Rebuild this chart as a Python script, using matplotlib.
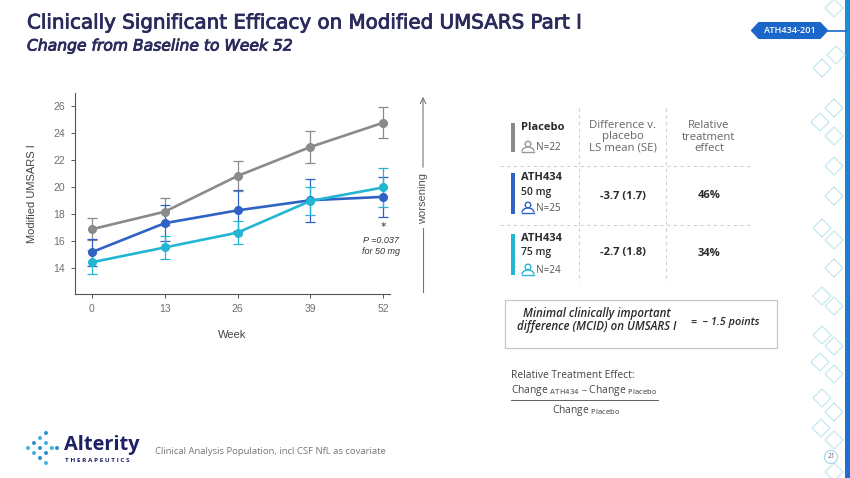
import matplotlib
matplotlib.use("Agg")
import matplotlib.pyplot as plt
import matplotlib.patheffects as pe
from matplotlib.patches import Polygon, Rectangle, Circle, Arc
import numpy as np

# ---------------- data ----------------
weeks = [0, 13, 26, 39, 52]
placebo = [16.9, 18.2, 20.85, 23.0, 24.8]
placebo_err = [0.8, 1.0, 1.1, 1.2, 1.15]
mg50 = [15.2, 17.35, 18.3, 19.05, 19.3]
mg50_err = [1.0, 1.35, 1.5, 1.6, 1.5]
mg75 = [14.45, 15.55, 16.65, 19.0, 20.0]
mg75_err = [0.9, 0.85, 0.85, 1.05, 1.45]
yticks = [14, 16, 18, 20, 22, 24, 26]

groups = ["Placebo", "ATH434\n50 mg", "ATH434\n75 mg"]
n_values = ["N=22", "N=25", "N=24"]
diff_values = ["", "-3.7 (1.7)", "-2.7 (1.8)"]
rel_effect = ["", "46%", "34%"]

C_PLA = "#8a8a8a"
C_50 = "#2f62c4"
C_75 = "#22b6d2"
NAVY = "#2a2b5c"

W, H = 850, 478
fig = plt.figure(figsize=(8.5, 4.78), dpi=100)
fig.patch.set_facecolor("white")

# ---------------- overlay (pixel coords) ----------------
ov = fig.add_axes([0, 0, 1, 1])
ov.axis("off")
SL = "Open Sans"
TF = "DejaVu Sans"

# title
ov.text(27, 23, "Clinically Significant Efficacy on Modified UMSARS Part I",
        fontsize=14.3, fontfamily=TF, color=NAVY, va="center",
        path_effects=[pe.withStroke(linewidth=0.6, foreground=NAVY)])
ov.text(27, 46, "Change from Baseline to Week 52", fontsize=11.2, fontfamily=TF,
        style="italic", color=NAVY, va="center",
        path_effects=[pe.withStroke(linewidth=0.6, foreground=NAVY)])

# badge
bx = [752, 759, 820, 827, 820, 759]
by = [30.5, 23, 23, 30.5, 38, 38]
ov.add_patch(Polygon(list(zip(bx, by)), closed=True, facecolor="#1a66c9", edgecolor="#1a66c9",
                     lw=1.5, joinstyle="round"))
ov.text(789.5, 30.5, "ATH434-201", fontsize=6.6, fontfamily=SL, fontweight="semibold",
        color="white", ha="center", va="center")
ov.plot([827, 846], [30.5, 30.5], color="#1a66c9", lw=1.2)

# right edge bar
grad = np.linspace(0, 1, 200).reshape(-1, 1)
ov.imshow(grad, extent=(845, 850, H, 0), cmap=matplotlib.colors.LinearSegmentedColormap.from_list(
    "g", ["#1a8fd6", "#1f6fd0"]), aspect="auto", zorder=1)

# decorative diamonds
diam = [(834, 8), (836, 55), (822, 68), (834, 108), (820, 122), (834, 136), (834, 166),
        (834, 196), (822, 228), (834, 240), (834, 268), (822, 296), (834, 306), (822, 335),
        (834, 346), (820, 362), (834, 374), (822, 398), (834, 412), (821, 428), (834, 440),
        (834, 472)]
for cx, cy in diam:
    d = 9
    ov.add_patch(Polygon([(cx, cy - d), (cx + d, cy), (cx, cy + d), (cx - d, cy)], closed=True,
                         facecolor="none", edgecolor="#c4e8f1", lw=0.9, joinstyle="round"))
ov.add_patch(Circle((831, 457), 6.5, facecolor="white", edgecolor="#9fd6e6", lw=0.8))
ov.text(831, 457, "21", fontsize=4.8, fontfamily=SL, color="#555", ha="center", va="center")

# worsening arrow
ov.annotate("", xy=(423, 94), xytext=(423, 170),
            arrowprops=dict(arrowstyle="->", color="#777", lw=0.8))
ov.plot([423, 423], [228, 292], color="#777", lw=0.8)
ov.text(423, 199, "worsening", rotation=90, fontsize=8, fontfamily="Liberation Sans",
        color="#555", ha="center", va="center")

# significance annotation
ov.text(383, 227, "*", fontsize=8, color="#333", ha="center", va="center")
ov.text(381, 240, "P =0.037", fontsize=6.5, style="italic", fontfamily="Liberation Sans",
        color="#333", ha="center", va="center")
ov.text(381, 251, "for 50 mg", fontsize=6.5, style="italic", fontfamily="Liberation Sans",
        color="#333", ha="center", va="center")

# ---------------- table ----------------
for xv in [579, 666]:
    ov.plot([xv, xv], [108, 282], color="#cfcfcf", lw=0.8, ls=(0, (3, 3)))
for yh in [166, 225]:
    ov.plot([500, 750], [yh, yh], color="#cfcfcf", lw=0.8, ls=(0, (3, 3)))

ov.text(623, 137, "Difference v.\nplacebo\nLS mean (SE)", fontsize=8.2, fontfamily=SL,
        color="#666", ha="center", va="center", linespacing=1.05)
ov.text(709, 137, "Relative\ntreatment\neffect", fontsize=8.2, fontfamily=SL,
        color="#666", ha="center", va="center", linespacing=1.05)

bar_cols = [C_PLA, C_50, C_75]
bar_spans = [(123, 152), (173, 214), (234, 275)]
name_y = [[127], [177, 192], [238, 253]]
n_y = [147, 208, 270]
val_y = [None, 196, 253]
for i in range(3):
    y0, y1 = bar_spans[i]
    ov.add_patch(Rectangle((511.5, y0), 3.5, y1 - y0, facecolor=bar_cols[i], edgecolor="none"))
    lines = groups[i].split("\n")
    for j, ln in enumerate(lines):
        ov.text(521, name_y[i][j], ln, fontsize=8.0 if j == 0 else 7.5, fontfamily=SL,
                fontweight="bold" if j == 0 else "semibold", color="#2b2b2b", va="center")
    # person icon
    icol = "#9a9a9a" if i == 0 else bar_cols[i]
    ix, iy = 528, n_y[i]
    ov.add_patch(Circle((ix, iy - 3.0), 2.8, facecolor="none", edgecolor=icol, lw=1.0))
    ov.add_patch(Arc((ix, iy + 4.5), 12, 9, theta1=180, theta2=360, edgecolor=icol, lw=1.0))
    ov.plot([ix - 6, ix + 6], [iy + 4.5, iy + 4.5], color=icol, lw=1.0)
    ov.text(536, iy + 0.5, n_values[i], fontsize=7.2, fontfamily=SL, color="#555", va="center")
    if val_y[i] is not None:
        ov.text(623, val_y[i], diff_values[i], fontsize=8, fontfamily=SL, fontweight="bold",
                color="#2b2b2b", ha="center", va="center")
        ov.text(709, val_y[i], rel_effect[i], fontsize=8, fontfamily=SL, fontweight="bold",
                color="#2b2b2b", ha="center", va="center")

# MCID box
ov.add_patch(Rectangle((505, 300), 272, 48, facecolor="white", edgecolor="#c8c8c8", lw=0.9))
ov.text(597, 320, "Minimal clinically important\ndifference (MCID) on UMSARS I", fontsize=8.3,
        fontfamily=SL, fontweight="semibold", style="italic", color="#2b2b2b", ha="center",
        va="center", linespacing=1.0)
ov.text(725, 322, "=  – 1.5 points", fontsize=7.8, fontfamily=SL, fontweight="semibold",
        style="italic", color="#2b2b2b", ha="center", va="center")

# relative treatment effect formula
ov.text(511, 376, "Relative Treatment Effect:", fontsize=7.4, fontfamily=SL, color="#444",
        va="center")
ov.text(511, 391, r"Change $_{\mathrm{ATH434}}$ – Change $_{\mathrm{Placebo}}$", fontsize=7.4,
        fontfamily=SL, color="#444", va="center")
ov.plot([511, 658], [400, 400], color="#444", lw=0.6)
ov.text(586, 410, r"Change $_{\mathrm{Placebo}}$", fontsize=7.4, fontfamily=SL, color="#444",
        ha="center", va="center")

# footer: logo
dots = [(28, 448), (34, 443), (34, 453), (40, 448), (40, 438), (40, 458), (46, 443),
        (46, 453), (52, 448), (46, 433), (46, 463), (57, 448)]
for k, (dx, dy) in enumerate(dots):
    ov.add_patch(Circle((dx, dy), 2.0, facecolor="#2a8fd8" if k % 2 else "#3fb3e3",
                        edgecolor="none"))
ov.text(64, 445, "Alterity", fontsize=14.4, fontfamily=SL, fontweight="bold", color="#1f2167",
        va="center")
ov.text(65, 461, "T H E R A P E U T I C S", fontsize=4.6, fontfamily=SL, fontweight="bold",
        color="#1f2167", va="center")
ov.text(155, 451, "Clinical Analysis Population, incl CSF NfL as covariate", fontsize=6.8,
        fontfamily=SL, color="#777", va="center")

ov.set_xlim(0, W)
ov.set_ylim(H, 0)

# ---------------- chart ----------------
ax = fig.add_axes([75 / W, 1 - 294 / H, 315 / W, 201 / H])
ax.set_facecolor("none")
series = [(placebo, placebo_err, C_PLA), (mg50, mg50_err, C_50), (mg75, mg75_err, C_75)]
for vals, errs, col in series:
    ax.errorbar(weeks, vals, yerr=errs, color=col, lw=1.9, marker="o", ms=5.5,
                elinewidth=0.9, capsize=3.5, capthick=0.9, ecolor=col, zorder=3)
ax.set_xlim(-3, 53.2)
ax.set_ylim(12.1, 27.0)
ax.set_xticks(weeks)
ax.set_yticks(yticks)
for s in ["top", "right"]:
    ax.spines[s].set_visible(False)
for s in ["left", "bottom"]:
    ax.spines[s].set_color("#555")
    ax.spines[s].set_linewidth(0.8)
ax.tick_params(axis="both", length=3, width=0.7, color="#555", labelsize=7.5,
               labelcolor="#6f6f6f", pad=4)
for lab in ax.get_xticklabels() + ax.get_yticklabels():
    lab.set_fontfamily("Liberation Sans")
ax.set_xlabel("Week", fontsize=8, fontfamily="Liberation Sans", color="#444", labelpad=12)
ax.set_ylabel("Modified UMSARS I", fontsize=8, fontfamily="Liberation Sans", color="#444",
              labelpad=12)

fig.savefig("out.png", dpi=100, facecolor="white")
